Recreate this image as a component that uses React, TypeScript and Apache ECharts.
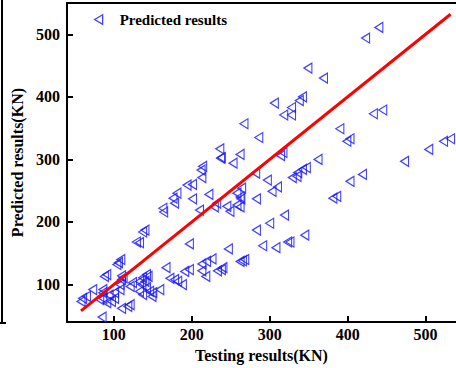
import React, { useEffect, useRef } from "react";
import * as echarts from "echarts";

// Experimental (testing) capacity vs. model prediction, both in kN
const testing = [
  440, 423, 349, 369, 306, 342, 338, 328, 318, 328, 433, 445, 390, 399, 403, 504, 523, 532, 473, 362,
  347, 342, 336, 329, 335, 419, 403, 386, 381, 345, 326, 286, 314, 317, 282, 297, 303, 310, 283, 267,
  236, 238, 237, 262, 253, 214, 212, 213, 194, 201, 181, 176, 178, 163, 201, 222, 264, 262, 258, 263,
  262, 229, 245, 210, 249, 258, 232, 283, 140, 164, 137, 133, 129, 109, 106, 104, 91, 88, 110, 112,
  73, 86, 60, 58, 65, 86, 94, 91, 97, 101, 82, 108, 110, 108, 121, 124, 133, 137, 142, 140,
  136, 144, 133, 137, 142, 146, 150, 159, 149, 110, 118, 121, 85, 101, 86, 167, 172, 178, 182, 197,
  247, 300, 319, 291, 308, 323, 226, 219, 213, 262, 265, 268, 238, 233, 240, 197, 191, 213, 218, 188,
];
const predicted = [
  511, 494, 446, 430, 390, 400, 394, 383, 371, 371, 373, 379, 349, 329, 333, 316, 329, 333, 297, 300,
  287, 284, 279, 271, 273, 276, 265, 241, 238, 179, 168, 335, 306, 311, 278, 267, 249, 256, 237, 357,
  317, 303, 302, 308, 294, 289, 283, 271, 259, 260, 246, 238, 230, 222, 237, 244, 254, 240, 246, 237,
  224, 224, 225, 219, 217, 227, 230, 187, 187, 216, 184, 167, 168, 140, 135, 132, 116, 113, 114, 111,
  92, 92, 78, 73, 81, 78, 83, 71, 73, 78, 76, 100, 108, 92, 97, 103, 105, 111, 116, 105,
  100, 113, 89, 84, 95, 89, 87, 92, 81, 62, 65, 68, 48, 87, 87, 127, 110, 108, 105, 165,
  157, 198, 211, 162, 159, 168, 141, 137, 133, 137, 138, 140, 124, 122, 127, 124, 121, 122, 113, 100,
];

// Ideal-agreement line y = x
const fitLine = [
  [58, 58],
  [532, 532],
];

const axisTicks = [100, 200, 300, 400, 500];

const FONT = "'Liberation Serif', 'Times New Roman', serif";
const TRIANGLE = "path://M10,0 L0,6 L10,12 Z";
const X_MIN = 40;
const X_MAX = 539;

export default function App() {
  const ref = useRef<HTMLDivElement>(null);

  useEffect(() => {
    if (!ref.current) return;
    const chart = echarts.init(ref.current, null, { renderer: "svg" });
    const points = testing.map((t, i) => [t, predicted[i]]);

    const labelStyle = {
      fontFamily: FONT,
      fontWeight: "bold",
      fontSize: 16,
      color: "#000",
    };

    chart.setOption({
      animation: false,
      backgroundColor: "#ffffff",
      grid: {
        left: 67,
        top: 3,
        right: 0,
        bottom: 45,
        show: false,
      },
      legend: {
        data: ["Predicted results"],
        left: 89,
        top: 7,
        icon: TRIANGLE,
        itemWidth: 8,
        itemHeight: 11,
        textStyle: {
          ...labelStyle,
          fontSize: 15,
          padding: [0, 0, 0, 12],
        },
        itemStyle: { color: "transparent", borderColor: "#1414ff", borderWidth: 1.3 },
      },
      xAxis: [
        {
          type: "value",
          min: X_MIN,
          max: X_MAX,
          name: "Testing results(KN)",
          nameLocation: "middle",
          nameGap: 17,
          nameTextStyle: labelStyle,
          axisLine: { onZero: false, lineStyle: { color: "#000", width: 2 } },
          axisTick: { inside: true, length: 6, lineStyle: { color: "#000", width: 2 }, customValues: axisTicks },
          axisLabel: { ...labelStyle, margin: 4, customValues: axisTicks },
          splitLine: { show: false },
        },
        {
          // top frame edge
          type: "value",
          position: "top",
          min: X_MIN,
          max: X_MAX,
          axisLine: { onZero: false, lineStyle: { color: "#000", width: 2 } },
          axisTick: { show: false },
          axisLabel: { show: false },
          splitLine: { show: false },
        },
      ],
      yAxis: {
        type: "value",
        min: 40,
        max: 550,
        name: "Predicted results(KN)",
        nameLocation: "middle",
        nameGap: 32,
        nameTextStyle: labelStyle,
        axisLine: { onZero: false, lineStyle: { color: "#000", width: 2 } },
        axisTick: { inside: true, length: 6, lineStyle: { color: "#000", width: 2 }, customValues: axisTicks },
        axisLabel: { ...labelStyle, margin: 7, customValues: axisTicks },
        splitLine: { show: false },
      },
      graphic: [
        {
          type: "line",
          shape: { x1: 2, y1: 0, x2: 2, y2: 324 },
          style: { stroke: "#000", lineWidth: 2 },
        },
        {
          type: "line",
          shape: { x1: 0, y1: 323, x2: 6, y2: 323 },
          style: { stroke: "#000", lineWidth: 2 },
        },
      ],
      series: [
        {
          name: "Predicted results",
          type: "scatter",
          data: points,
          symbol: TRIANGLE,
          symbolSize: [8, 10],
          itemStyle: { color: "transparent", borderColor: "#1414ff", borderWidth: 1.2 },
          z: 3,
        },
        {
          name: "Fit",
          type: "line",
          data: fitLine,
          symbol: "none",
          lineStyle: { color: "#ff0000", width: 3 },
          z: 4,
        },
      ],
    });

    return () => chart.dispose();
  }, []);

  return (
    <div
      ref={ref}
      style={{ position: "fixed", left: 0, top: 0, width: 456, height: 368 }}
    />
  );
}
